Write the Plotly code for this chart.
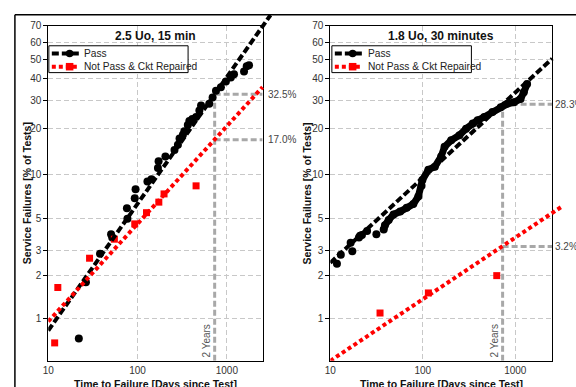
import numpy as np
import plotly.graph_objects as go

# ---------------- data ----------------
# Left panel: 2.5 Uo, 15 min
L_pass_days = [22, 26.4, 38, 50.5, 52, 77, 76, 93, 95, 129, 143, 169, 172, 205, 259, 283, 295,
               322, 334, 365, 380, 410, 452, 492, 514, 635, 692, 755, 857, 975, 1107, 1202,
               1556, 1668, 1770]
L_pass_pct = [0.72, 1.8, 2.85, 3.9, 3.7, 5.0, 5.9, 6.9, 7.95, 9.0, 9.3, 11.1, 12.3, 13.2, 14.6,
              15.8, 17.3, 18.3, 19.3, 21.1, 22.4, 23.0, 23.7, 26.0, 27.9, 28.5, 31.1, 34.0, 35.6,
              38.4, 40.3, 42.0, 43.4, 46.3, 46.8]
L_rep_days = [11.8, 12.8, 29, 55, 93, 126, 173, 198, 452]
L_rep_pct = [0.67, 1.65, 2.65, 3.6, 4.6, 5.5, 6.5, 7.4, 8.4]
L_fit_pass_days = [10, 3083]
L_fit_pass_pct = [0.82, 76.2]
L_fit_rep_days = [10, 2512]
L_fit_rep_pct = [0.95, 35.7]
L_2yr_pct = [32.5, 17.0]

# Right panel: 1.8 Uo, 30 minutes
R_pass_days_sparse = [11.8, 13, 16.6, 17.3, 20.4, 21, 22, 25, 31.5]
R_pass_pct_sparse = [2.42, 2.8, 3.4, 2.96, 3.7, 3.8, 3.85, 4.1, 3.9]
R_pass_days_dense = [37.8, 39, 42.8, 48.3, 57, 67, 79, 89.5, 97, 99, 115, 135, 158, 172, 203,
                     249, 294, 347, 392, 462, 567, 697, 820, 966, 1140, 1237, 1343]
R_pass_pct_dense = [4.2, 4.5, 4.9, 5.35, 5.6, 5.95, 6.3, 7.1, 8.4, 9.2, 10.8, 11.3, 13.2, 15.3,
                    16.9, 18.2, 20.0, 21.6, 22.6, 23.7, 25.4, 27.2, 28.5, 29.1, 30.5, 33.3, 37.1]
R_rep_days = [34.5, 115, 631]
R_rep_pct = [1.09, 1.51, 2.0]
R_fit_pass_days = [10, 2512]
R_fit_pass_pct = [2.46, 50.5]
R_fit_rep_days = [10, 3243]
R_fit_rep_pct = [0.5, 6.1]
R_2yr_pct = [28.3, 3.2]

TWO_YEARS = 730
Y_TICKS = [1, 2, 3, 5, 10, 20, 30, 40, 50, 60, 70]
X_TICKS = [10, 100, 1000]
Y_MIN_PCT, Y_MAX_PCT = 0.5, 70
X_MIN_DAYS, X_MAX_DAYS = 10, 2512
titles = ["2.5 Uo, 15 min", "1.8 Uo, 30 minutes"]
LEGEND_LABELS = ["Pass", "Not Pass & Ckt Repaired"]


def W(p):
    p = np.asarray(p, dtype=float) / 100.0
    return np.log(-np.log(1 - p))


FONT = "Liberation Sans, Arial, sans-serif"
GRAY = "#a8a8a8"
RED = "#ff0000"
PASS_DASH = "7px,3px"
REP_DASH = "4px,3px"

W_PX = 576
H_PX = 387
top_px, bot_px = 21, 360.5
frame_top_px = 10
plot_x_px = [[42.7, 259.3], [327.7, 552.0]]
overlay_right_px = [285.0, 576.0]


def px(x):
    return x / W_PX


def py(y):
    return 1 - y / H_PX


fig = go.Figure()

panels = [
    dict(xa="x", ya="y", oxa="x3", oya="y3", pd=L_pass_days, pp=L_pass_pct, rd=L_rep_days, rp=L_rep_pct,
         fpd=L_fit_pass_days, fpp=L_fit_pass_pct, frd=L_fit_rep_days, frp=L_fit_rep_pct,
         two=L_2yr_pct, dense=None),
    dict(xa="x2", ya="y2", oxa="x4", oya="y4", pd=R_pass_days_sparse, pp=R_pass_pct_sparse,
         rd=R_rep_days, rp=R_rep_pct, fpd=R_fit_pass_days, fpp=R_fit_pass_pct,
         frd=R_fit_rep_days, frp=R_fit_rep_pct, two=R_2yr_pct,
         dense=(R_pass_days_dense, R_pass_pct_dense)),
]

for i, P in enumerate(panels):
    xa, ya = P["xa"], P["ya"]
    # 2-year guide lines
    fig.add_trace(go.Scatter(x=[TWO_YEARS, TWO_YEARS], y=W([Y_MIN_PCT, max(P["two"])]), mode="lines",
                             line=dict(color=GRAY, width=3, dash="6px,3px"), xaxis=xa, yaxis=ya,
                             hoverinfo="skip"))
    for v in P["two"]:
        fig.add_trace(go.Scatter(x=[TWO_YEARS, X_MAX_DAYS], y=W([v, v]), mode="lines",
                                 line=dict(color=GRAY, width=3, dash="6px,3px"), xaxis=xa, yaxis=ya,
                                 hoverinfo="skip"))
    # data points
    fig.add_trace(go.Scatter(x=P["pd"], y=W(P["pp"]), mode="markers",
                             marker=dict(color="black", size=8, symbol="circle"),
                             xaxis=xa, yaxis=ya, cliponaxis=False))
    if P["dense"] is not None:
        fig.add_trace(go.Scatter(x=P["dense"][0], y=W(P["dense"][1]), mode="lines+markers",
                                 line=dict(color="black", width=7),
                                 marker=dict(color="black", size=8, symbol="circle"),
                                 xaxis=xa, yaxis=ya))
    fig.add_trace(go.Scatter(x=P["rd"], y=W(P["rp"]), mode="markers",
                             marker=dict(color=RED, size=7, symbol="square"),
                             xaxis=xa, yaxis=ya, cliponaxis=False))
    # fitted lines, on an invisible overlay subplot with the same scale but a larger clip area
    fig.add_trace(go.Scatter(x=P["fpd"], y=W(P["fpp"]), mode="lines",
                             line=dict(color="black", width=4, dash=PASS_DASH),
                             xaxis=P["oxa"], yaxis=P["oya"]))
    fig.add_trace(go.Scatter(x=P["frd"], y=W(P["frp"]), mode="lines",
                             line=dict(color=RED, width=4, dash=REP_DASH),
                             xaxis=P["oxa"], yaxis=P["oya"]))

ydom = [py(bot_px), py(top_px)]
wmin, wmax = float(W(Y_MIN_PCT)), float(W(Y_MAX_PCT))
y_scale = (bot_px - top_px) / (wmax - wmin)
oy_max = wmax + (top_px - frame_top_px) / y_scale
xlog_min, xlog_max = np.log10(X_MIN_DAYS), np.log10(X_MAX_DAYS)

axis_common = dict(showline=True, linecolor="black", linewidth=1, mirror=True,
                   showgrid=True, gridcolor="#c8c8c8", griddash="5px,3px", gridwidth=1,
                   zeroline=False, tickfont=dict(family=FONT, size=10, color="#333333"))
y_tickvals = list(W(Y_TICKS))
y_ticktext = [str(t) for t in Y_TICKS]
for i, P in enumerate(panels):
    n = "" if i == 0 else "2"
    on = str(3 + i)
    x0p, x1p = plot_x_px[i]
    fig.layout["xaxis" + n] = dict(type="log", range=[xlog_min, xlog_max], domain=[px(x0p), px(x1p)],
                                   tickvals=X_TICKS, ticktext=[str(t) for t in X_TICKS], ticks="",
                                   anchor=P["ya"], **axis_common)
    fig.layout["yaxis" + n] = dict(range=[wmin, wmax], domain=ydom,
                                   tickvals=y_tickvals, ticktext=y_ticktext,
                                   ticks="outside", ticklen=4, tickcolor="black",
                                   anchor=P["xa"], **axis_common)
    x_scale = (x1p - x0p) / (xlog_max - xlog_min)
    ox_max = xlog_min + (overlay_right_px[i] - x0p) / x_scale
    fig.layout["xaxis" + on] = dict(type="log", range=[xlog_min, ox_max],
                                    domain=[px(x0p), px(overlay_right_px[i])],
                                    visible=False, showgrid=False, zeroline=False, anchor=P["oya"])
    fig.layout["yaxis" + on] = dict(range=[wmin, oy_max], domain=[py(bot_px), py(frame_top_px)],
                                    visible=False, showgrid=False, zeroline=False, anchor=P["oxa"])

shapes = [
    dict(type="line", xref="paper", yref="paper", x0=px(9), x1=1, y0=py(10), y1=py(10),
         line=dict(color="black", width=1.5)),
    dict(type="line", xref="paper", yref="paper", x0=px(9), x1=px(9), y0=0, y1=py(10),
         line=dict(color="black", width=1.5)),
]
ann = []
for i, P in enumerate(panels):
    xa, ya = P["xa"], P["ya"]
    # custom legend box
    lx = 43.3 if i == 0 else 329.3
    lw = 140.7 if i == 0 else 141
    shapes.append(dict(type="rect", xref="paper", yref="paper", x0=px(lx), x1=px(lx + lw),
                       y0=py(41.3), y1=py(68.5), line=dict(color="black", width=1),
                       fillcolor="white", layer="above"))
    for k, (lab, col, dash, ymid) in enumerate(zip(LEGEND_LABELS, ["black", RED], [PASS_DASH, REP_DASH],
                                                   [49.2, 62.5])):
        shapes.append(dict(type="line", xref="paper", yref="paper", x0=px(lx + 3), x1=px(lx + 31),
                           y0=py(ymid), y1=py(ymid), line=dict(color=col, width=4, dash=dash),
                           layer="above"))
        cx = lx + 21
        shapes.append(dict(type="circle" if k == 0 else "rect", xref="paper", yref="paper",
                           x0=px(cx - 3.8), x1=px(cx + 3.8), y0=py(ymid + 3.8), y1=py(ymid - 3.8),
                           fillcolor=col, line=dict(color=col, width=0), layer="above"))
        ann.append(dict(text=lab, xref="paper", yref="paper", x=px(lx + 34), y=py(ymid),
                        xanchor="left", yanchor="middle", showarrow=False,
                        font=dict(family=FONT, size=10.2, color="#222222")))
    ann.append(dict(text="<b>%s</b>" % titles[i], xref=xa + " domain", yref=ya + " domain",
                    x=0.5, y=1, yshift=-1, xanchor="center", yanchor="top", showarrow=False,
                    font=dict(family=FONT, size=12, color="#111111")))
    for v in P["two"]:
        ann.append(dict(text="%.1f%%" % v, xref=xa + " domain", yref=ya, x=1, y=float(W(v)),
                        xanchor="left", yanchor="middle", xshift=3 if i == 0 else 1, showarrow=False,
                        font=dict(family=FONT, size=10, color="#444444")))
    ann.append(dict(text="2 Years", xref=xa, yref=ya + " domain", x=np.log10(TWO_YEARS), y=0,
                    xanchor="right", yanchor="bottom", xshift=-1, yshift=1, textangle=-90,
                    showarrow=False, font=dict(family=FONT, size=10, color="#555555")))
    ann.append(dict(text="<b>Service Failures [% of Tests]</b>", xref="paper", yref=ya + " domain",
                    x=px(21.2 if i == 0 else 304.5), y=0.5, xanchor="center", yanchor="middle",
                    textangle=-90, showarrow=False, font=dict(family=FONT, size=10.5, color="#111111")))
    ann.append(dict(text="<b>Time to Failure [Days since Test]</b>", xref=xa + " domain", yref="paper",
                    x=0.5, y=py(376), xanchor="center", yanchor="top", showarrow=False,
                    font=dict(family=FONT, size=10.5, color="#111111")))

fig.update_layout(annotations=ann, shapes=shapes)
fig.update_layout(width=W_PX, height=H_PX, margin=dict(l=0, r=0, t=0, b=0),
                  paper_bgcolor="white", plot_bgcolor="rgba(0,0,0,0)", showlegend=False,
                  font=dict(family=FONT))
fig.write_html("out.html")
